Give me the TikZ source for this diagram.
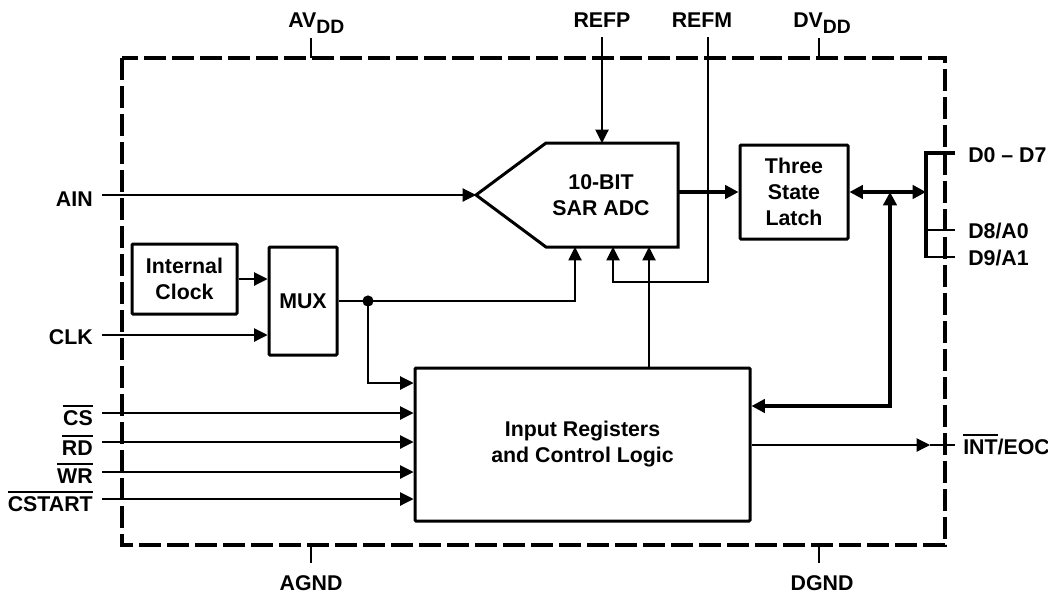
\documentclass[tikz,border=0pt]{standalone}
\usepackage{fontspec}
\setmainfont{Liberation Sans}
\usetikzlibrary{arrows.meta}
\newcommand\ovl[1]{\leavevmode\vbox{\hrule height 2pt\kern 2.2pt\hbox{#1}}}
\newcommand\subDD{\raisebox{-5pt}{\fontsize{14.5}{14.5}\selectfont DD}}
\begin{document}
\begin{tikzpicture}[x=0.75pt,y=-0.75pt,
  font=\fontsize{16}{19.5}\selectfont\bfseries,
  >={Triangle[length=10pt,width=10pt]},
  box/.style={draw, line width=2.25pt, align=center, inner sep=0pt, rounded corners=0.8pt},
  lbl/.style={inner sep=0pt},
  sig/.style={line width=0.8pt},
  bus/.style={line width=2.4pt},
  border/.style={line width=2.6pt, dash pattern=on 16.5pt off 4.5pt}]
\useasboundingbox (0,0) rectangle (1048,593);

% package outline
\draw[border] (122,58) rectangle (945,545);

% blocks
\node[box, minimum width=78.75pt, minimum height=52.5pt] (intclk) at (184.5,279) {Internal\\Clock};
\node[box, minimum width=51pt, minimum height=81pt] (mux) at (303,301) {MUX};
\node[box, minimum width=81pt, minimum height=70.5pt] (latch) at (794,192) {Three\\State\\Latch};
\node[box, minimum width=251.25pt, minimum height=114.75pt] (inreg) at (582.5,444.5) {Input Registers\\and Control Logic};
\draw[line width=2.25pt, line join=miter] (476,195) -- (546,143) -- (678,143) -- (678,247) -- (546,247) -- cycle;
\node[lbl, align=center] (adc) at (601,195) {10-BIT\\SAR ADC};

% coordinates on the ADC
\coordinate (adcin) at (476,195);
\coordinate (adcout) at (678,192);
\coordinate (adctop) at (602,143);
\coordinate (adcb1) at (575,247);
\coordinate (adcb2) at (613,247);
\coordinate (adcb3) at (649,247);

% pin labels
\node[lbl, anchor=base west] (avdd) at (288,27) {AV\subDD};
\node[lbl, anchor=base west] (dvdd) at (793,27) {DV\subDD};
\node[lbl, anchor=base] (refp) at (602,27) {REFP};
\node[lbl, anchor=base] (refm) at (702,27) {REFM};
\node[lbl, anchor=base] (agnd) at (311,590) {AGND};
\node[lbl, anchor=base] (dgnd) at (822,590) {DGND};
\node[lbl, anchor=base east] (ain) at (93,206) {AIN};
\node[lbl, anchor=base east] (clk) at (93,344) {CLK};
\node[lbl, anchor=base east] (cs) at (93,425) {\ovl{CS}};
\node[lbl, anchor=base east] (rd) at (93,455) {\ovl{RD}};
\node[lbl, anchor=base east] (wr) at (93,483) {\ovl{WR}};
\node[lbl, anchor=base east] (cstart) at (93,511) {\ovl{CSTART}};
\node[lbl, anchor=base west] (d07) at (968,162) {D0 -- D7};
\node[lbl, anchor=base west] (d8) at (968,238) {D8/A0};
\node[lbl, anchor=base west] (d9) at (968,265) {D9/A1};
\node[lbl, anchor=base west] (int) at (963,454) {\ovl{INT}/EOC};

% power / ground ticks
\coordinate (avddS) at (311,38);
\coordinate (dvddS) at (819,38);
\coordinate (agndS) at (311,563);
\coordinate (dgndS) at (819,563);
\draw[sig] (avddS) -- (311,58);
\draw[sig] (dvddS) -- (819,58);
\draw[sig] (agndS) -- (311,545);
\draw[sig] (dgndS) -- (819,545);

% references
\coordinate (refpS) at (602,37);
\coordinate (refmS) at (708,37);
\coordinate (refmC) at (613,282);
\draw[sig,->] (refpS) -- (adctop);
\draw[sig,->] (refmS) |- (refmC) -- (adcb2);

% analog input
\coordinate (ainS) at (102,195);
\draw[sig,->] (ainS) -- (adcin);

% clock path
\coordinate (clkS) at (102,335);
\draw[sig,->] (intclk.east) -- (intclk.east -| mux.west);
\draw[sig,->] (clkS) -- (clkS -| mux.west);
\coordinate (dot) at (368,301);
\coordinate (dotL) at (368,383);
\draw[sig,->] (mux.east) -- (dot) -| (adcb1);
\draw[sig,->] (dot) |- (dotL -| inreg.west);
\fill (dot) circle[radius=4.2pt];

% control inputs
\coordinate (csS) at (102,413);
\coordinate (rdS) at (102,442);
\coordinate (wrS) at (102,472);
\coordinate (cstS) at (102,499);
\draw[sig,->] (csS) -- (csS -| inreg.west);
\draw[sig,->] (rdS) -- (rdS -| inreg.west);
\draw[sig,->] (wrS) -- (wrS -| inreg.west);
\draw[sig,->] (cstS) -- (cstS -| inreg.west);

% control to ADC
\draw[sig,->] (inreg.north -| adcb3) -- (adcb3);

% data path
\draw[bus,->] (adcout) -- (adcout -| latch.west);
\coordinate (busT) at (926,153);
\coordinate (busB) at (926,258);
\coordinate (busM) at (926,192);
\coordinate (fbT) at (890,192);
\coordinate (fbB) at (890,406);
\draw[bus,<->] (latch.east) -- (busM);
\draw[bus, line join=miter] (955,153) -- (busT) -- (busB);
\draw[sig] (926,230) -- (955,230);
\draw[sig] (926,257) -- (955,257);
\draw[bus,<->, line join=miter] (fbT) -- (fbB) -- (fbB -| inreg.east);

% interrupt output
\coordinate (intS) at (750,445);
\coordinate (intT) at (930,445);
\coordinate (intE) at (955,445);
\draw[sig,->] (intS -| inreg.east) -- (intT);
\draw[sig] (intT) -- (intE);
\end{tikzpicture}
\end{document}
